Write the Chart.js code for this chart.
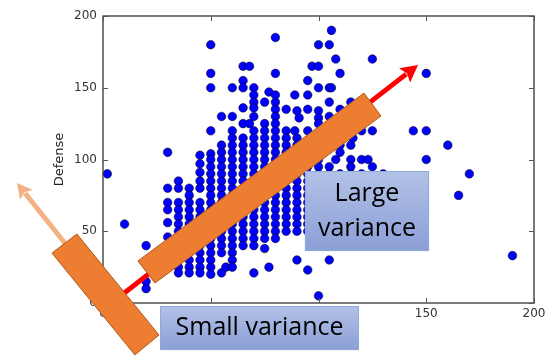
<!DOCTYPE html>
<html>
<head>
<meta charset="utf-8">
<script src="https://cdn.jsdelivr.net/npm/chart.js@4.4.0/dist/chart.umd.min.js"></script>
<style>
  html, body { margin: 0; padding: 0; background: #fff; }
</style>
</head>
<body>
<canvas id="pcaChart" width="554" height="364"></canvas>
<script>
// attack value of each column of dots, and the defense values stacked in that column
const attackCols = [2, 10, 20, 30, 35, 40, 45, 50, 55, 57, 60, 65, 68, 70, 75, 77, 80, 85, 89, 90, 91, 95, 97,
  100, 105, 106, 108, 110, 115, 116, 120, 123, 125, 130, 144, 150, 160, 165, 170, 190]
const defenseCols = [
  [90], [55], [40, 15, 10], [105, 80, 70, 65, 56, 46],
  [85, 80, 70, 65, 60, 55, 50, 45, 40, 35, 30, 25, 21],
  [80, 75, 70, 65, 60, 55, 50, 45, 40, 35, 30, 25, 21],
  [103, 97, 91, 85, 80, 70, 65, 60, 55, 50, 45, 40, 35, 30, 25, 21],
  [180, 160, 150, 120, 104, 100, 95, 90, 85, 80, 75, 70, 65, 60, 55, 50, 45, 40, 35, 30, 25, 20],
  [130, 110, 105, 100, 95, 90, 85, 80, 75, 70, 65, 60, 55, 50, 45, 40, 35, 21],
  [25],
  [150, 130, 120, 115, 110, 105, 100, 95, 90, 85, 80, 75, 70, 65, 60, 55, 50, 45, 40, 35, 30, 25],
  [165, 155, 150, 136, 125, 115, 110, 105, 100, 95, 90, 85, 80, 75, 70, 65, 60, 55, 50, 45, 40],
  [165, 125],
  [150, 145, 140, 136, 130, 120, 115, 110, 105, 100, 95, 90, 85, 80, 75, 70, 65, 60, 55, 50, 45, 40, 21],
  [140, 125, 120, 115, 110, 105, 100, 95, 90, 85, 80, 75, 70, 65, 60, 55, 50, 45, 38],
  [147, 25],
  [185, 160, 145, 140, 135, 130, 125, 120, 115, 110, 105, 100, 95, 90, 85, 80, 75, 70, 65, 60, 55, 50, 45],
  [135, 120, 115, 110, 105, 100, 95, 90, 85, 80, 75, 70, 65, 60, 55, 50],
  [145, 120],
  [134, 115, 110, 105, 100, 95, 90, 85, 80, 75, 70, 65, 60, 55, 50, 30],
  [129],
  [155, 145, 135, 120, 110, 105, 100, 95, 90, 85, 80, 75, 70, 65, 60, 55, 50, 23],
  [165],
  [180, 165, 150, 134, 129, 125, 115, 110, 105, 100, 95, 90, 85, 80, 75, 70, 65, 60, 55, 5],
  [180, 150, 140, 130, 95, 90, 85, 80, 75, 70, 65, 60, 30],
  [190, 150], [170, 100],
  [160, 135, 110, 105, 90, 85, 80, 75, 70, 65],
  [140, 110, 100, 95, 90, 80, 75, 70],
  [115],
  [120, 100, 90, 85, 80, 75],
  [100],
  [170, 120, 95, 85, 80],
  [90, 85, 80],
  [120], [160, 120, 100], [110], [75], [90], [33]
]
const xTicks = [0, 50, 100, 150, 200]
const yTicks = [0, 50, 100, 150, 200]
const xTitle = 'Attack'
const yTitle = 'Defense'
const largeLabel = ['Large', 'variance']
const smallLabel = ['Small variance']

const points = []
attackCols.forEach((a, i) => defenseCols[i].forEach(d => points.push({x: a, y: d})))

// annotation shapes, in data units of the axes
const bigRect = [[16.2, 29.3], [121.1, 146.3], [129.0, 130.3], [24.1, 13.9]]
const smallRect = [[-23.7, 34.8], [-12.1, 48.1], [26.0, -22.3], [14.8, -36.2]]
const mainArrow = [[0.9, -3.5], [146.2, 165.9]]
const sideArrow = [[-7.0, 21.6], [-39.9, 83.6]]
const largeBox = [[93.7, 92.0], [151.3, 36.2]]
const smallBox = [[26.5, -2.1], [118.8, -32.8]]

const toPx = (chart, p) => [chart.scales.x.getPixelForValue(p[0]), chart.scales.y.getPixelForValue(p[1])]

const drawArrow = (ctx, from, to, color, width, headLen, headHalf) => {
  const dx = to[0] - from[0], dy = to[1] - from[1]
  const len = Math.hypot(dx, dy)
  const ux = dx / len, uy = dy / len
  const bx = to[0] - ux * headLen, by = to[1] - uy * headLen
  ctx.strokeStyle = color
  ctx.lineWidth = width
  ctx.beginPath()
  ctx.moveTo(from[0], from[1])
  ctx.lineTo(bx + ux * 2, by + uy * 2)
  ctx.stroke()
  ctx.fillStyle = color
  ctx.beginPath()
  ctx.moveTo(to[0], to[1])
  ctx.lineTo(bx - uy * headHalf, by + ux * headHalf)
  ctx.lineTo(bx + ux * 3, by + uy * 3)
  ctx.lineTo(bx + uy * headHalf, by - ux * headHalf)
  ctx.closePath()
  ctx.fill()
}

const drawRect = (ctx, corners) => {
  ctx.beginPath()
  corners.forEach((c, i) => i ? ctx.lineTo(c[0], c[1]) : ctx.moveTo(c[0], c[1]))
  ctx.closePath()
  ctx.fillStyle = '#ed7d31'
  ctx.fill()
  ctx.strokeStyle = '#ae5a21'
  ctx.lineWidth = 1
  ctx.stroke()
}

const drawBox = (ctx, a, b, lines, lineGap) => {
  const x = a[0], y = a[1], w = b[0] - a[0], h = b[1] - a[1]
  const grad = ctx.createLinearGradient(0, y, 0, y + h)
  grad.addColorStop(0, '#b2c1e6')
  grad.addColorStop(1, '#8b9fd6')
  ctx.fillStyle = grad
  ctx.fillRect(x, y, w, h)
  ctx.strokeStyle = '#8eaadb'
  ctx.lineWidth = 1
  ctx.strokeRect(x + 0.5, y + 0.5, w - 1, h - 1)
  ctx.fillStyle = '#000'
  ctx.font = '25px "Open Sans"'
  ctx.textAlign = 'center'
  ctx.textBaseline = 'middle'
  const cy = y + h / 2 - (lines.length - 1) * lineGap / 2
  lines.forEach((t, i) => ctx.fillText(t, x + w / 2, cy + i * lineGap))
}

const overlayPlugin = {
  id: 'overlay',
  afterDraw(chart) {
    const ctx = chart.ctx
    const {left, right, top, bottom} = chart.chartArea
    const sx = chart.scales.x, sy = chart.scales.y
    ctx.save()
    // frame and inward ticks
    ctx.strokeStyle = '#333'
    ctx.lineWidth = 1.3
    ctx.strokeRect(left, top, right - left, bottom - top)
    ctx.strokeStyle = '#555'
    ctx.lineWidth = 1
    ctx.beginPath()
    xTicks.forEach(v => {
      const p = Math.round(sx.getPixelForValue(v)) + 0.5
      ctx.moveTo(p, bottom); ctx.lineTo(p, bottom - 5)
      ctx.moveTo(p, top); ctx.lineTo(p, top + 5)
    })
    yTicks.forEach(v => {
      const p = Math.round(sy.getPixelForValue(v)) + 0.5
      ctx.moveTo(left, p); ctx.lineTo(left + 5, p)
      ctx.moveTo(right, p); ctx.lineTo(right - 5, p)
    })
    ctx.stroke()

    drawArrow(ctx, toPx(chart, mainArrow[0]), toPx(chart, mainArrow[1]), '#ff0000', 5, 17, 9)
    drawRect(ctx, bigRect.map(p => toPx(chart, p)))
    drawArrow(ctx, toPx(chart, sideArrow[0]), toPx(chart, sideArrow[1]), '#f4b183', 5, 15, 8)
    drawRect(ctx, smallRect.map(p => toPx(chart, p)))
    drawBox(ctx, toPx(chart, largeBox[0]), toPx(chart, largeBox[1]), largeLabel, 35)
    drawBox(ctx, toPx(chart, smallBox[0]), toPx(chart, smallBox[1]), smallLabel, 0)
    ctx.restore()
  }
}

const tickFont = {family: 'DejaVu Sans', size: 12}

const config = {
  type: 'scatter',
  data: {
    datasets: [{
      data: points,
      backgroundColor: '#0000ff',
      borderColor: '#000000',
      borderWidth: 0.5,
      pointRadius: 4.3
    }]
  },
  options: {
    responsive: false,
    animation: false,
    layout: {padding: {left: 0, right: 20, top: 16, bottom: 0}},
    plugins: {legend: {display: false}, tooltip: {enabled: false}},
    scales: {
      x: {
        type: 'linear', min: 0, max: 200,
        afterBuildTicks: s => { s.ticks = xTicks.map(v => ({value: v})) },
        afterFit: s => { s.height = 61 },
        grid: {display: false, drawTicks: false},
        border: {display: false},
        ticks: {padding: 4, color: '#333', font: tickFont},
        title: {display: true, text: xTitle, color: '#222', font: {family: 'DejaVu Sans', size: 13}, padding: {top: 0, bottom: 21}}
      },
      y: {
        type: 'linear', min: 0, max: 200,
        afterBuildTicks: s => { s.ticks = yTicks.map(v => ({value: v})) },
        afterFit: s => { s.width = 103 },
        grid: {display: false, drawTicks: false},
        border: {display: false},
        ticks: {padding: 6, color: '#333', font: tickFont},
        title: {display: true, text: yTitle, color: '#222', font: {family: 'DejaVu Sans', size: 13}, padding: {top: 52, bottom: 0}}
      }
    }
  },
  plugins: [overlayPlugin]
}

const pcaChart = new Chart(document.getElementById('pcaChart'), config)
</script>
</body>
</html>
